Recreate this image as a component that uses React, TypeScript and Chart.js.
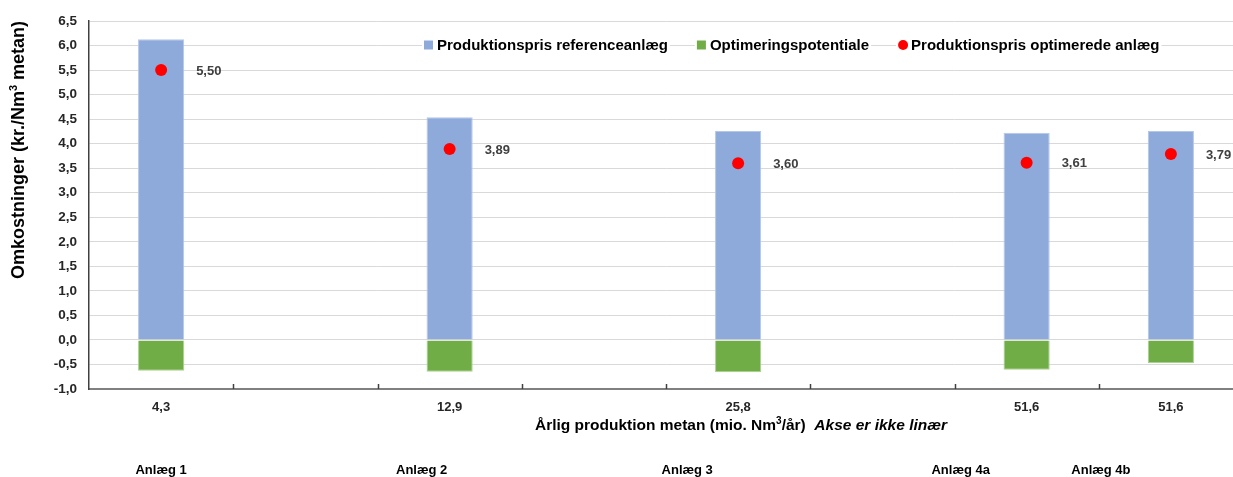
import React, { useEffect, useRef } from 'react';
import { Chart, registerables } from 'chart.js';

Chart.register(...registerables);

// Annual methane production per plant (mio. Nm³/år); blank slots keep the non-linear spacing
const categories = ['4,3', '', '12,9', '', '25,8', '', '51,6', '51,6'];
// Production price of the reference plants (kr./Nm³ metan)
const referencePrice = [6.13, null, 4.54, null, 4.26, null, 4.22, 4.26];
// Optimisation potential (negative, kr./Nm³ metan)
const optimisationPotential = [-0.63, null, -0.65, null, -0.66, null, -0.61, -0.47];
// Production price of the optimised plants (kr./Nm³ metan)
const optimisedPrice = [5.5, null, 3.89, null, 3.6, null, 3.61, 3.79];
// Plant names shown below the axis title, and the category slot each is centred on
const plantNames = ['Anlæg 1', 'Anlæg 2', 'Anlæg 3', 'Anlæg 4a', 'Anlæg 4b'];
const plantSlots = [0, 1.806, 3.647, 5.543, 6.515];

const Y_MIN = -1;
const Y_MAX = 6.5;
const Y_STEP = 0.5;

const FONT = "'Liberation Sans', Arial, sans-serif";
const TEXT = '#262626';
const BLUE = '#8eaadb';
const GREEN = '#70ad47';
const RED = '#ff0000';

const comma = (v: number, d: number) => v.toFixed(d).replace('.', ',');

const legendItems = [
  { label: 'Produktionspris referenceanlæg', color: BLUE, kind: 'box' },
  { label: 'Optimeringspotentiale', color: GREEN, kind: 'box' },
  { label: 'Produktionspris optimerede anlæg', color: RED, kind: 'dot' },
];

const overlay = {
  id: 'overlay',
  afterDatasetsDraw(chart: any) {
    const ctx = chart.ctx;
    const meta = chart.getDatasetMeta(0);
    ctx.save();
    ctx.font = `bold 13px ${FONT}`;
    ctx.fillStyle = '#404040';
    ctx.textAlign = 'left';
    ctx.textBaseline = 'middle';
    meta.data.forEach((pt: any, i: number) => {
      const v = optimisedPrice[i];
      if (v == null) return;
      ctx.fillText(comma(v, 2), pt.x + 35, pt.y + 1);
    });
    ctx.restore();
  },
  afterDraw(chart: any) {
    const ctx = chart.ctx;
    const area = chart.chartArea;
    const xs = chart.scales.x;
    const catW = (area.right - area.left) / categories.length;
    ctx.save();

    // small inner tick marks on the category boundaries
    ctx.strokeStyle = '#404040';
    ctx.lineWidth = 1.5;
    for (let i = 1; i < categories.length; i++) {
      const x = Math.round(area.left + i * catW) + 0.5;
      ctx.beginPath();
      ctx.moveTo(x, area.bottom);
      ctx.lineTo(x, area.bottom - 5);
      ctx.stroke();
    }

    // legend inside the plot area
    ctx.font = `bold 15px ${FONT}`;
    ctx.textBaseline = 'middle';
    ctx.textAlign = 'left';
    let lx = 424;
    const ly = 45;
    legendItems.forEach((it) => {
      const tw = ctx.measureText(it.label).width;
      ctx.fillStyle = '#ffffff';
      ctx.fillRect(lx - 2, ly - 9, tw + 17, 18);
      ctx.fillStyle = it.color;
      if (it.kind === 'box') {
        ctx.fillRect(lx, ly - 4.5, 9, 9);
      } else {
        ctx.beginPath();
        ctx.arc(lx + 5, ly, 5, 0, Math.PI * 2);
        ctx.fill();
      }
      ctx.fillStyle = '#000000';
      ctx.fillText(it.label, lx + 13, ly + 1);
      lx += 13 + tw + 29;
    });

    // y axis title
    ctx.save();
    ctx.translate(19, 150);
    ctx.rotate(-Math.PI / 2);
    ctx.textBaseline = 'middle';
    ctx.fillStyle = '#000000';
    const yParts = [
      { t: 'Omkostninger (kr./Nm', f: `bold 18px ${FONT}`, dy: 0 },
      { t: '3', f: `bold 11px ${FONT}`, dy: -5 },
      { t: ' metan)', f: `bold 18px ${FONT}`, dy: 0 },
    ];
    let yTotal = 0;
    yParts.forEach((p) => {
      ctx.font = p.f;
      yTotal += ctx.measureText(p.t).width;
    });
    let yx = -yTotal / 2;
    ctx.textAlign = 'left';
    yParts.forEach((p) => {
      ctx.font = p.f;
      ctx.fillText(p.t, yx, p.dy);
      yx += ctx.measureText(p.t).width;
    });
    ctx.restore();

    // x axis title with superscript and italic note
    const parts = [
      { t: 'Årlig produktion metan (mio. Nm', f: `bold 15.5px ${FONT}`, dy: 0 },
      { t: '3', f: `bold 10px ${FONT}`, dy: -6 },
      { t: '/år)', f: `bold 15.5px ${FONT}`, dy: 0 },
      { t: '  Akse er ikke linær', f: `italic bold 15.5px ${FONT}`, dy: 0 },
    ];
    let total = 0;
    parts.forEach((p) => {
      ctx.font = p.f;
      total += ctx.measureText(p.t).width;
    });
    let tx = 741 - total / 2;
    const ty = 430;
    ctx.textBaseline = 'alphabetic';
    ctx.textAlign = 'left';
    ctx.fillStyle = '#000000';
    parts.forEach((p) => {
      ctx.font = p.f;
      ctx.fillText(p.t, tx, ty + p.dy);
      tx += ctx.measureText(p.t).width;
    });

    // plant names
    ctx.font = `bold 13px ${FONT}`;
    ctx.textAlign = 'center';
    ctx.textBaseline = 'middle';
    plantNames.forEach((name, i) => {
      const x = xs.left + (plantSlots[i] + 0.5) * catW;
      ctx.fillText(name, x, 470);
    });
    ctx.restore();
  },
};

export default function App() {
  const canvasRef = useRef<HTMLCanvasElement | null>(null);

  useEffect(() => {
    const canvas = canvasRef.current;
    if (!canvas) return;
    const chart = new Chart(canvas, {
      type: 'bar',
      data: {
        labels: categories,
        datasets: [
          {
            type: 'line',
            label: 'Produktionspris optimerede anlæg',
            data: optimisedPrice,
            showLine: false,
            pointRadius: 6,
            pointBackgroundColor: RED,
            pointBorderColor: RED,
            pointBorderWidth: 0,
            order: 0,
          } as any,
          {
            label: 'Produktionspris referenceanlæg',
            data: referencePrice,
            backgroundColor: BLUE,
            borderColor: '#b4c7e7',
            borderWidth: 1,
            order: 1,
          },
          {
            label: 'Optimeringspotentiale',
            data: optimisationPotential,
            backgroundColor: GREEN,
            borderColor: '#a9d18e',
            borderWidth: 1,
            order: 1,
          },
        ],
      },
      options: {
        responsive: false,
        maintainAspectRatio: false,
        animation: false,
        layout: { padding: { top: 21, right: 7, left: 0, bottom: 0 } },
        datasets: { bar: { barPercentage: 0.32, categoryPercentage: 1 } },
        plugins: { legend: { display: false }, tooltip: { enabled: false } },
        scales: {
          x: {
            stacked: true,
            grid: { display: false, drawTicks: false },
            border: { display: true, color: '#808080', width: 2 },
            ticks: {
              autoSkip: false,
              maxRotation: 0,
              padding: 11,
              color: TEXT,
              font: { family: FONT, size: 13, weight: 'bold' },
            },
            afterFit: (s: any) => {
              s.height = 88;
              s.paddingLeft = 0;
              s.paddingRight = 0;
            },
          },
          y: {
            stacked: true,
            min: Y_MIN,
            max: Y_MAX,
            grid: { color: '#d9d9d9', drawTicks: false },
            border: { color: '#404040', width: 1.5 },
            ticks: {
              stepSize: Y_STEP,
              padding: 12,
              color: TEXT,
              font: { family: FONT, size: 13.5, weight: 'bold' },
              callback: (v: any) => comma(Number(v), 1),
            },
            afterFit: (s: any) => {
              s.width = 89;
              s.paddingTop = 0;
              s.paddingBottom = 0;
            },
          },
        },
      },
      plugins: [overlay],
    });
    return () => chart.destroy();
  }, []);

  return (
    <div style={{ position: 'fixed', inset: 0, overflow: 'hidden', background: '#ffffff' }}>
      <canvas
        ref={canvasRef}
        width={1250}
        height={477}
        style={{ position: 'absolute', left: 0, top: 0, width: 1250, height: 477 }}
      />
    </div>
  );
}
